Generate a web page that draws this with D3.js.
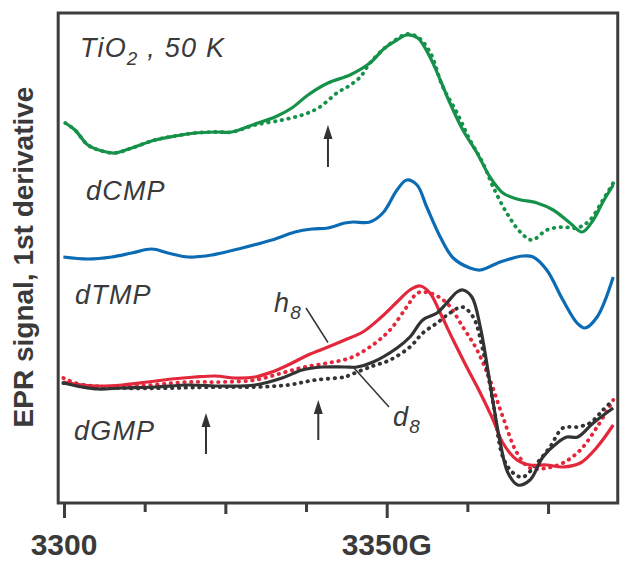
<!DOCTYPE html>
<html>
<head>
<meta charset="utf-8">
<script src="https://cdn.jsdelivr.net/npm/d3@7"></script>
<style>
  body { margin: 0; background: #fff; }
  text { font-family: "Liberation Sans", Arial, sans-serif; fill: #3a3a3a; }
</style>
</head>
<body>
<svg id="chart" width="632" height="567"></svg>
<script>
// field (G), signal (arb. units) pairs
const cmpSolid = [
  [3300.2, 75.4], [3301.7, 74.0], [3303.7, 71.0], [3305.9, 69.8], [3307.9, 69.4],
  [3310.5, 70.4], [3314.1, 72.0], [3317.2, 72.8], [3320.3, 73.4], [3323.4, 73.6],
  [3326.0, 73.6], [3329.6, 75.2], [3332.7, 76.6], [3335.3, 78.4], [3337.8, 81.0],
  [3340.9, 83.4], [3343.5, 84.6], [3344.3, 85.0], [3347.4, 87.4], [3349.7, 90.4],
  [3351.6, 92.0], [3353.1, 93.0], [3354.8, 92.4], [3356.7, 88.6], [3358.3, 84.0],
  [3359.8, 79.4], [3361.8, 74.0], [3364.0, 69.4], [3366.0, 64.6], [3368.0, 61.4],
  [3370.2, 60.2], [3373.3, 59.4], [3375.8, 58.0], [3378.4, 55.4], [3380.3, 53.6],
  [3382.0, 56.0], [3383.5, 59.6], [3385.1, 63.0]
];
const cmpDotted = [
  [3300.2, 75.4], [3301.7, 74.0], [3303.7, 71.0], [3305.9, 69.8], [3307.9, 69.4],
  [3310.5, 70.4], [3314.1, 72.0], [3317.2, 72.8], [3320.3, 73.4], [3323.4, 73.6],
  [3326.0, 73.6], [3329.6, 75.0], [3333.8, 76.0], [3336.9, 77.0], [3339.4, 78.4],
  [3342.5, 81.6], [3343.9, 82.6], [3345.9, 84.6], [3347.4, 87.4], [3349.7, 90.4],
  [3351.6, 92.2], [3353.1, 93.2], [3354.8, 92.6], [3356.7, 89.6], [3358.7, 82.6],
  [3360.9, 77.4], [3362.9, 72.0], [3364.9, 67.4], [3366.5, 62.6], [3368.6, 57.4],
  [3370.7, 53.6], [3372.5, 52.0], [3374.8, 54.0], [3377.3, 54.6], [3379.5, 54.4],
  [3381.5, 56.0], [3383.5, 60.0], [3385.1, 63.4]
];
const tmpSolid = [
  [3299.9, 48.6], [3303.7, 48.2], [3307.4, 48.6], [3310.5, 49.4], [3313.6, 50.2],
  [3316.1, 49.4], [3319.2, 48.6], [3322.9, 49.0], [3327.6, 50.4], [3332.2, 52.0],
  [3335.8, 53.6], [3338.4, 54.2], [3340.9, 54.4], [3343.5, 55.4], [3344.8, 55.6],
  [3347.4, 55.6], [3349.4, 57.4], [3351.6, 62.0], [3353.1, 64.0], [3354.7, 63.0],
  [3356.2, 58.6], [3358.3, 52.6], [3360.3, 48.4], [3362.9, 46.4], [3364.5, 46.0],
  [3367.6, 47.6], [3371.1, 48.8], [3372.7, 48.6], [3374.8, 46.0], [3377.3, 40.0],
  [3379.5, 35.4], [3380.7, 34.4], [3382.6, 36.6], [3385.1, 44.6]
];
const gmpH8Solid = [
  [3299.9, 23.6], [3302.8, 23.0], [3305.3, 22.8], [3309.0, 23.0], [3313.0, 23.6],
  [3316.7, 24.2], [3320.3, 24.6], [3323.4, 24.8], [3326.5, 24.4], [3329.6, 24.6],
  [3332.2, 25.6], [3334.7, 27.0], [3337.8, 29.0], [3340.9, 30.6], [3343.5, 32.0],
  [3346.3, 33.6], [3349.0, 36.4], [3351.6, 39.6], [3353.6, 42.0], [3355.2, 42.8],
  [3356.7, 41.4], [3358.3, 37.4], [3360.3, 32.0], [3362.4, 26.6], [3364.5, 21.4],
  [3366.5, 16.0], [3368.0, 11.4], [3370.2, 8.0], [3372.2, 7.0], [3374.8, 7.0],
  [3377.3, 6.6], [3380.0, 7.4], [3382.6, 10.6], [3385.1, 15.0]
];
const gmpH8Dotted = [
  [3299.9, 24.4], [3302.8, 23.0], [3309.0, 22.6], [3319.2, 23.6], [3324.5, 23.6],
  [3329.6, 24.0], [3333.8, 25.4], [3337.3, 26.6], [3340.9, 27.4], [3344.3, 28.4],
  [3347.4, 30.6], [3350.5, 34.0], [3353.1, 38.6], [3354.8, 41.4], [3356.7, 41.4],
  [3359.3, 39.4], [3361.8, 34.6], [3364.0, 30.0], [3366.0, 24.0], [3368.0, 16.6],
  [3370.2, 9.4], [3372.2, 6.4], [3374.8, 6.4], [3377.3, 7.4], [3380.0, 10.0],
  [3382.6, 14.6], [3385.1, 20.0]
];
const gmpD8Solid = [
  [3299.9, 23.4], [3302.8, 22.6], [3305.3, 22.2], [3309.0, 22.4], [3314.1, 22.6],
  [3319.2, 23.0], [3324.5, 22.8], [3329.6, 23.0], [3333.8, 24.4], [3336.9, 26.0],
  [3340.0, 26.6], [3343.5, 26.6], [3345.4, 26.6], [3347.9, 27.6], [3351.6, 30.4],
  [3353.6, 32.6], [3355.6, 36.0], [3357.8, 37.4], [3359.3, 39.4], [3360.9, 41.6],
  [3361.8, 42.0], [3363.2, 40.6], [3364.5, 34.6], [3365.5, 27.4], [3366.5, 19.4],
  [3367.6, 11.4], [3368.8, 5.4], [3370.3, 3.0], [3372.2, 4.0], [3374.2, 8.6],
  [3376.4, 11.4], [3377.9, 12.6], [3379.6, 12.6], [3382.0, 15.4], [3385.1, 18.4]
];
const gmpD8Dotted = [
  [3299.9, 23.4], [3309.0, 22.4], [3324.5, 22.6], [3329.6, 22.6], [3334.7, 23.0],
  [3338.9, 24.0], [3343.5, 24.6], [3344.3, 25.0], [3347.4, 26.6], [3350.5, 28.0],
  [3353.6, 30.6], [3355.6, 33.4], [3357.8, 35.4], [3359.8, 37.4], [3361.7, 38.6],
  [3363.4, 36.6], [3364.9, 30.0], [3366.5, 19.4], [3368.0, 8.6], [3369.6, 5.4],
  [3371.1, 4.6], [3373.3, 7.4], [3375.3, 10.6], [3377.3, 14.4], [3379.5, 14.6],
  [3381.5, 15.4], [3383.5, 18.0], [3385.1, 20.0]
];

const tickFields = [3300, 3312.5, 3325, 3337.5, 3350, 3362.5, 3375];
const labelFields = [3300, 3350];
const labelTexts = ["3300", "3350G"];

// arrows: field, tail signal, tip signal
const arrowFields = [3340.9, 3322.0, 3339.4];
const arrowTails = [66.6, 9.2, 12.0];
const arrowTips = [75.0, 17.4, 20.0];

const width = 632,
  height = 567,
  fieldMin = 3299.1,
  fieldMax = 3385.8,
  signalMin = -0.6,
  signalMax = 97.4;

const x = d3.scaleLinear().domain([3300, 3350]).range([64, 386.7]);
const y = d3.scaleLinear().domain([0, 98]).range([500, 10]);

const svg = d3.select("#chart");

const line = d3
  .line()
  .x(d => x(d[0]))
  .y(d => y(d[1]))
  .curve(d3.curveCatmullRom.alpha(0.5));

const green = "#16914a",
  blue = "#0b6cb4",
  red = "#e4283b",
  black = "#333333";

function drawSolid(data, color) {
  svg
    .append("path")
    .datum(data)
    .attr("d", line)
    .attr("fill", "none")
    .attr("stroke", color)
    .attr("stroke-width", 3.2)
    .attr("stroke-linejoin", "round");
}
function drawDotted(data, color) {
  svg
    .append("path")
    .datum(data)
    .attr("d", line)
    .attr("fill", "none")
    .attr("stroke", color)
    .attr("stroke-width", 3.8)
    .attr("stroke-linecap", "round")
    .attr("stroke-dasharray", "0.5 6.3");
}

drawDotted(cmpDotted, green);
drawSolid(cmpSolid, green);
drawSolid(tmpSolid, blue);
drawDotted(gmpH8Dotted, red);
drawDotted(gmpD8Dotted, black);
drawSolid(gmpH8Solid, red);
drawSolid(gmpD8Solid, black);

// frame
svg
  .append("rect")
  .attr("x", x(fieldMin))
  .attr("y", y(signalMax))
  .attr("width", x(fieldMax) - x(fieldMin))
  .attr("height", y(signalMin) - y(signalMax))
  .attr("fill", "none")
  .attr("stroke", "#3d3d3d")
  .attr("stroke-width", 3);

// x axis ticks
const xAxis = d3.axisBottom(x).tickValues(tickFields).tickFormat("").tickSize(9);
const axisG = svg
  .append("g")
  .attr("transform", "translate(0," + y(signalMin) + ")")
  .call(xAxis);
axisG.select(".domain").remove();
axisG
  .selectAll(".tick line")
  .attr("stroke", "#3d3d3d")
  .attr("stroke-width", 3)
  .attr("y2", d => (d % 50 === 0 ? 15 : d % 25 === 0 ? 11 : 9));

svg
  .selectAll(".xlabel")
  .data(labelFields)
  .enter()
  .append("text")
  .attr("class", "xlabel")
  .attr("x", d => x(d))
  .attr("y", 555)
  .attr("text-anchor", "middle")
  .style("font-size", "30px")
  .style("font-weight", "bold")
  .text((d, i) => labelTexts[i]);

// y axis title
svg
  .append("text")
  .attr("transform", "translate(33,257) rotate(-90)")
  .attr("text-anchor", "middle")
  .style("font-size", "28px")
  .style("font-weight", "bold")
  .text("EPR signal, 1st derivative");

// arrows
arrowFields.forEach((f, i) => {
  const ax = x(f),
    tail = y(arrowTails[i]),
    tip = y(arrowTips[i]);
  svg
    .append("line")
    .attr("x1", ax)
    .attr("x2", ax)
    .attr("y1", tail)
    .attr("y2", tip + 10)
    .attr("stroke", "#333")
    .attr("stroke-width", 2);
  svg
    .append("path")
    .attr("d", "M" + ax + "," + tip + "L" + (ax - 4.5) + "," + (tip + 14) + "L" + (ax + 4.5) + "," + (tip + 14) + "Z")
    .attr("fill", "#333");
});

// labels
const italic = sel =>
  sel.style("font-style", "italic").style("font-size", "27px").style("letter-spacing", "1.2px");

const tio = svg.append("text").attr("x", 80).attr("y", 57).call(italic);
tio.append("tspan").text("TiO");
tio.append("tspan").attr("dy", 8).style("font-size", "19px").text("2");
tio.append("tspan").attr("dy", -8).text(" , 50 K");

svg.append("text").attr("x", 86).attr("y", 200).call(italic).text("dCMP");
svg.append("text").attr("x", 75).attr("y", 304).call(italic).text("dTMP");
svg.append("text").attr("x", 74).attr("y", 440).call(italic).text("dGMP");

const h8 = svg.append("text").attr("x", 274).attr("y", 312).call(italic);
h8.append("tspan").text("h");
h8.append("tspan").attr("dy", 7).style("font-size", "19px").text("8");

const d8 = svg.append("text").attr("x", 393).attr("y", 426).call(italic);
d8.append("tspan").text("d");
d8.append("tspan").attr("dy", 7).style("font-size", "19px").text("8");

// leader lines
svg
  .append("line")
  .attr("x1", 306).attr("y1", 308)
  .attr("x2", x(3340.9)).attr("y2", y(31.5))
  .attr("stroke", "#333").attr("stroke-width", 1.5);
svg
  .append("line")
  .attr("x1", x(3344.8)).attr("y1", y(26.6))
  .attr("x2", 389).attr("y2", 407)
  .attr("stroke", "#333").attr("stroke-width", 1.5);
</script>
</body>
</html>
